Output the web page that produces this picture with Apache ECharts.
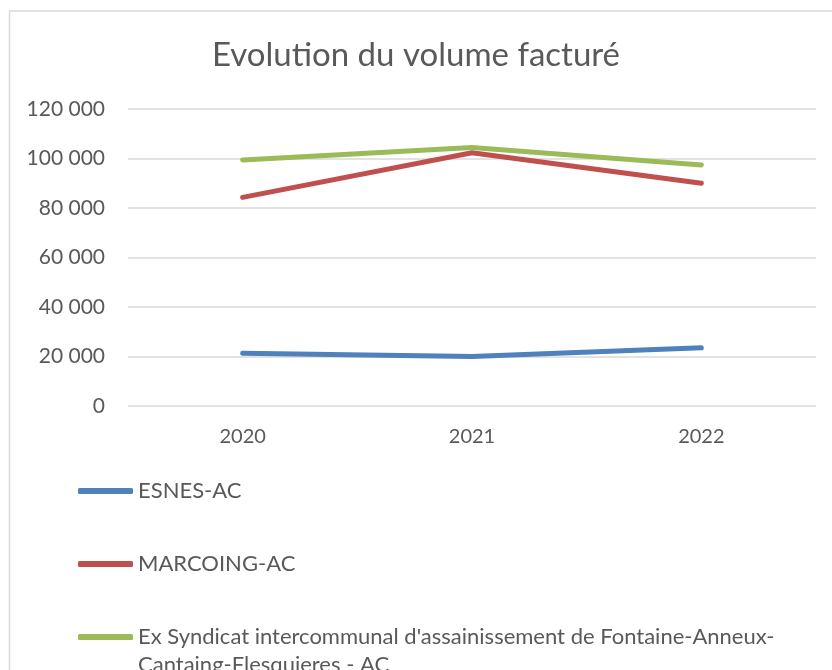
<!DOCTYPE html>
<html><head><meta charset="utf-8">
<script src="https://cdn.jsdelivr.net/npm/echarts@6/dist/echarts.min.js"></script>
<style>html,body{margin:0;padding:0;background:#fff}#c{width:832px;height:670px}</style>
</head><body><div id="c"></div>
<script>
const categories = ['2020', '2021', '2022'];
const esnes = [21300, 20000, 23500];
const marcoing = [84300, 102300, 90000];
const exSyndicat = [99400, 104400, 97400];
const seriesNames = ['ESNES-AC', 'MARCOING-AC', "Ex Syndicat intercommunal d'assainissement de Fontaine-Anneux-\nCantaing-Flesquieres - AC"];
const yTicks = { min: 0, max: 120000, interval: 20000 };

const FONT = 'Lato';
const TXT = '#595959';
const colors = ['#4f81bd', '#c0504d', '#9bbb59'];
const chart = echarts.init(document.getElementById('c'));
const fmt = v => String(v).replace(/\B(?=(\d{3})+(?!\d))/g, ' ');
const legendText = { fontFamily: FONT, fontSize: 22, color: TXT, lineHeight: 28 };
function leg(i, top, extra) {
  return Object.assign({
    data: [seriesNames[i]], orient: 'vertical', left: 78, top: top,
    icon: 'roundRect', itemWidth: 55, itemHeight: 6, itemGap: 0, padding: 0,
    textStyle: Object.assign({}, legendText), selectedMode: false
  }, extra || {});
}
chart.setOption({
  animation: false,
  color: colors,
  title: { text: 'Evolution du volume facturé', left: 'center', top: 34,
    textStyle: { fontFamily: FONT, fontSize: 33, fontWeight: 'normal', color: TXT } },
  graphic: [{ type: 'rect', shape: { x: 9.5, y: 11, width: 900, height: 800 },
    style: { fill: 'none', stroke: '#d9d9d9', lineWidth: 1.5 }, silent: true }],
  grid: { left: 128, right: 16, top: 109, bottom: 264, containLabel: false },
  legend: [
    leg(0, 477),
    leg(1, 550),
    leg(2, 595, { formatter: name => '\u00a0\n' + name })
  ],
  xAxis: { type: 'category', data: categories, boundaryGap: true,
    axisLine: { show: false }, axisTick: { show: false },
    axisLabel: { fontFamily: FONT, fontSize: 20, color: TXT, margin: 21 } },
  yAxis: { type: 'value', min: yTicks.min, max: yTicks.max, interval: yTicks.interval,
    axisLine: { show: false }, axisTick: { show: false },
    splitLine: { lineStyle: { color: '#d9d9d9', width: 1.5 } },
    axisLabel: { fontFamily: FONT, fontSize: 21, color: TXT, margin: 23, formatter: fmt } },
  series: [
    { name: seriesNames[0], type: 'line', data: esnes },
    { name: seriesNames[1], type: 'line', data: marcoing },
    { name: seriesNames[2], type: 'line', data: exSyndicat }
  ].map(s => Object.assign(s, { showSymbol: false, symbol: 'none',
    lineStyle: { width: 5, cap: 'round', join: 'round' } }))
});
</script></body></html>
